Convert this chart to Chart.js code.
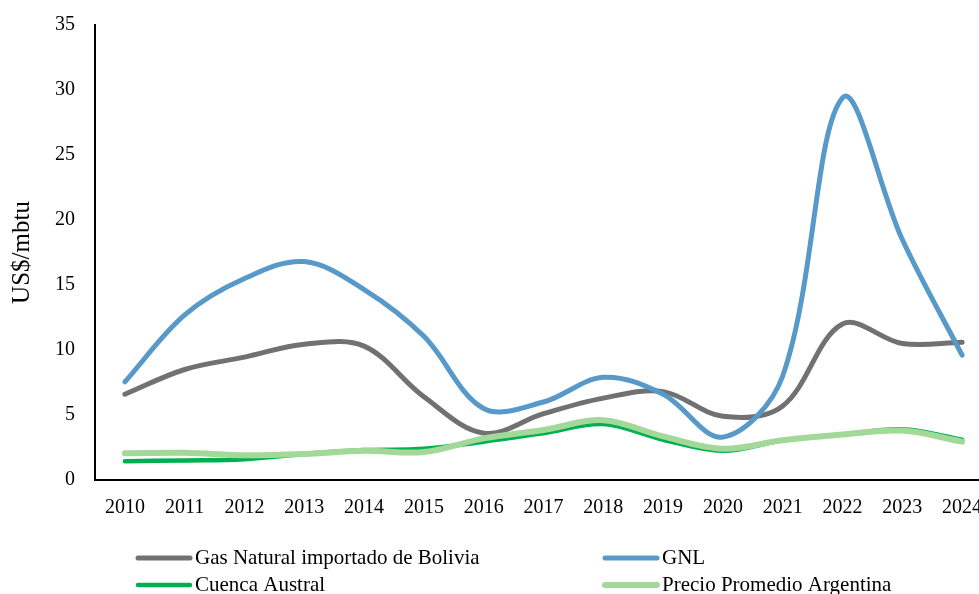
<!DOCTYPE html>
<html>
<head>
<meta charset="utf-8">
<script src="https://cdn.jsdelivr.net/npm/chart.js@4/dist/chart.umd.min.js"></script>
<style>
html,body{margin:0;padding:0;background:#fff;overflow:hidden;}
#wrap{width:979px;height:594px;overflow:hidden;}
canvas{display:block;}
</style>
</head>
<body>
<div id="wrap"><canvas id="c" width="1000" height="594"></canvas></div>
<script>
const years = ['2010','2011','2012','2013','2014','2015','2016','2017','2018','2019','2020','2021','2022','2023','2024'];
const gasBolivia = [6.6, 8.5, 9.45, 10.45, 10.3, 6.4, 3.6, 5.1, 6.3, 6.8, 4.9, 5.7, 12.0, 10.5, 10.6];
const gnl = [7.55, 12.7, 15.5, 16.8, 14.65, 11.05, 5.5, 6.0, 7.9, 6.6, 3.3, 8.0, 29.4, 18.5, 9.6];
const cuencaAustral = [1.45, 1.5, 1.6, 2.0, 2.3, 2.4, 2.95, 3.6, 4.3, 3.1, 2.25, 3.05, 3.5, 3.9, 3.1];
const precioPromedio = [2.05, 2.1, 1.9, 2.0, 2.25, 2.15, 3.2, 3.85, 4.6, 3.35, 2.4, 3.05, 3.5, 3.8, 2.95];
const seriesNames = ['Gas Natural importado de Bolivia', 'GNL', 'Cuenca Austral', 'Precio Promedio Argentina'];
const yTicks = [0, 5, 10, 15, 20, 25, 30, 35];
const yTitle = 'US$/mbtu';

const FONT = '"Liberation Serif", "Times New Roman", serif';

const legendPlugin = {
  id: 'colLegend',
  afterDraw(chart) {
    const ctx = chart.ctx;
    const cols = [138, 605];
    const rows = [558, 585];
    ctx.save();
    chart.data.datasets.forEach((ds, i) => {
      const x = cols[i % 2];
      const y = rows[Math.floor(i / 2)];
      ctx.strokeStyle = ds.borderColor;
      ctx.lineWidth = ds.borderWidth;
      ctx.lineCap = 'round';
      ctx.beginPath();
      ctx.moveTo(x, y);
      ctx.lineTo(x + 52, y);
      ctx.stroke();
      ctx.fillStyle = '#000';
      ctx.font = '21px ' + FONT;
      ctx.textBaseline = 'middle';
      ctx.textAlign = 'left';
      ctx.fillText(ds.label, x + 57, y);
    });
    ctx.restore();
  }
};

const colors = ['#717171', '#5799C8', '#00B050', '#A2D898'];
const widths = [5, 5, 4.5, 6];
const values = [gasBolivia, gnl, cuencaAustral, precioPromedio];

new Chart(document.getElementById('c'), {
  type: 'line',
  data: {
    labels: years,
    datasets: values.map((v, i) => ({
      label: seriesNames[i],
      data: v,
      borderColor: colors[i],
      backgroundColor: colors[i],
      borderWidth: widths[i],
      pointRadius: 0,
      tension: 0.35,
      fill: false,
      borderCapStyle: 'round',
      borderJoinStyle: 'round',
      order: 4 - i
    }))
  },
  options: {
    responsive: false,
    animation: false,
    devicePixelRatio: 1,
    layout: { padding: { top: 25, right: 8, left: 0, bottom: 0 } },
    plugins: { legend: { display: false }, tooltip: { enabled: false } },
    scales: {
      x: {
        type: 'category',
        offset: true,
        grid: { display: false, drawTicks: false, offset: true },
        border: { display: true, color: '#000', width: 2 },
        ticks: { color: '#000', font: { family: FONT, size: 20 }, padding: 16, maxRotation: 0, autoSkip: false },
        afterFit(scale) { scale.height = 114; scale.paddingLeft = 0; scale.paddingRight = 0; }
      },
      y: {
        min: 0,
        max: 35,
        afterBuildTicks(scale) { scale.ticks = yTicks.map(v => ({ value: v })); },
        grid: { display: false, drawTicks: false },
        border: { display: true, color: '#000', width: 2 },
        ticks: { color: '#000', font: { family: FONT, size: 20 }, padding: 20 },
        title: { display: true, text: yTitle, color: '#000', font: { family: FONT, size: 25 }, padding: { top: 7, bottom: 0 } },
        afterFit(scale) { scale.width = 95; scale.paddingTop = 0; scale.paddingBottom = 0; }
      }
    }
  },
  plugins: [legendPlugin]
});
</script>
</body>
</html>
